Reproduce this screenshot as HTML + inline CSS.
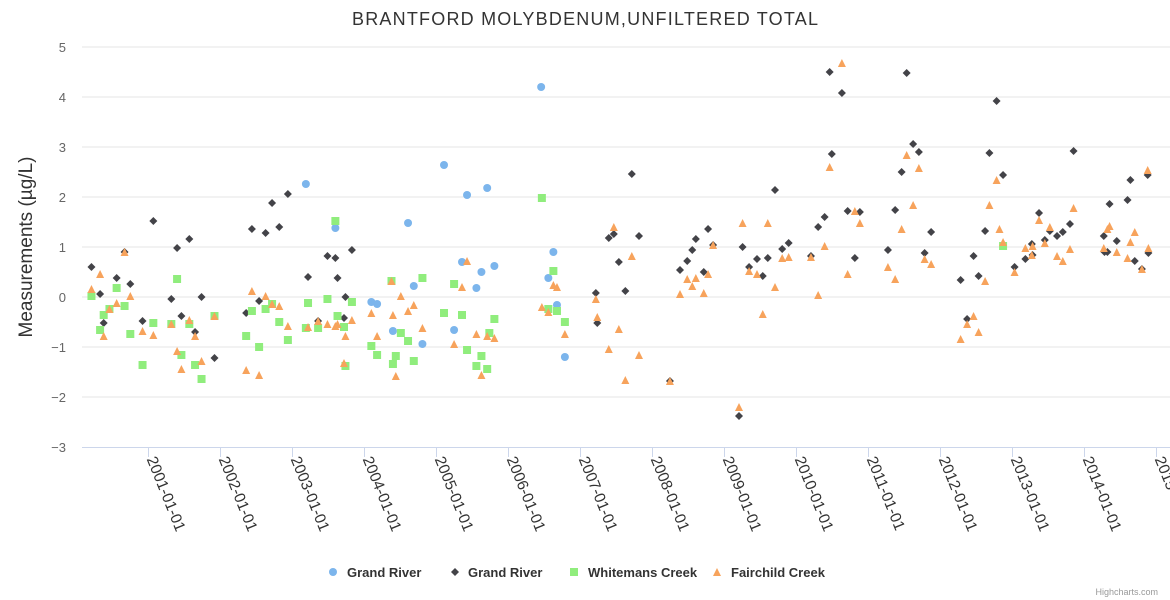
<!DOCTYPE html>
<html><head><meta charset="utf-8"><style>
html,body{margin:0;padding:0;background:#fff;}
svg{display:block;font-family:"Liberation Sans",sans-serif;}
</style></head><body>
<svg id="chart" width="1170" height="600" xmlns="http://www.w3.org/2000/svg">
<rect width="1170" height="600" fill="#fff"/>
<text x="585" y="25" text-anchor="middle" font-size="18" fill="#333" textLength="466">BRANTFORD MOLYBDENUM,UNFILTERED TOTAL</text>
<text transform="translate(32,247) rotate(-90)" text-anchor="middle" font-size="19" fill="#333">Measurements (µg/L)</text>
<g id="grid"></g><g id="xaxis"></g><g id="marks"></g>
<g id="legend">
<circle cx="333" cy="572" r="4" fill="#7cb5ec"/>
<text x="347" y="577" font-size="13" font-weight="bold" fill="#333">Grand River</text>
<path d="M455 568 L459 572 L455 576 L451 572 Z" fill="#434348"/>
<text x="468" y="577" font-size="13" font-weight="bold" fill="#333">Grand River</text>
<rect x="570" y="568" width="8" height="8" fill="#90ed7d"/>
<text x="588" y="577" font-size="13" font-weight="bold" fill="#333">Whitemans Creek</text>
<path d="M717 568 L721 576 L713 576 Z" fill="#f7a35c"/>
<text x="731" y="577" font-size="13" font-weight="bold" fill="#333">Fairchild Creek</text>
</g>
<text x="1158" y="595" text-anchor="end" font-size="9" fill="#999">Highcharts.com</text>
</svg>
<script>
const yTicks=[5,4,3,2,1,0,-1,-2,-3];
const yTickLabels=["5","4","3","2","1","0","\u22121","\u22122","\u22123"];
const xTicks=[2001,2002,2003,2004,2005,2006,2007,2008,2009,2010,2011,2012,2013,2014,2015];
const xTickLabels=["2001-01-01","2002-01-01","2003-01-01","2004-01-01","2005-01-01","2006-01-01","2007-01-01","2008-01-01","2009-01-01","2010-01-01","2011-01-01","2012-01-01","2013-01-01","2014-01-01","2015-01-01"];
const grandRiverA=[[2003.19,2.26],[2003.60,1.38],[2004.10,-0.1],[2004.18,-0.14],[2004.40,-0.68],[2004.61,1.48],[2004.69,0.22],[2004.81,-0.94],[2005.11,2.64],[2005.25,-0.66],[2005.36,0.7],[2005.43,2.04],[2005.56,0.18],[2005.63,0.5],[2005.71,2.18],[2005.81,0.62],[2006.46,4.2],[2006.56,0.38],[2006.63,0.9],[2006.68,-0.16],[2006.79,-1.2]];
const grandRiverB=[[2000.21,0.6],[2000.33,0.06],[2000.38,-0.52],[2000.56,0.38],[2000.75,0.26],[2000.67,0.9],[2000.92,-0.48],[2001.07,1.52],[2001.32,-0.04],[2001.40,0.98],[2001.46,-0.38],[2001.57,1.16],[2001.65,-0.7],[2001.74,0],[2001.92,-1.22],[2002.36,-0.32],[2002.44,1.36],[2002.54,-0.08],[2002.63,1.28],[2002.72,1.88],[2002.82,1.4],[2002.94,2.06],[2003.22,0.4],[2003.36,-0.48],[2003.49,0.82],[2003.60,0.78],[2003.63,0.38],[2003.74,0],[2003.72,-0.42],[2003.83,0.94],[2007.22,0.08],[2007.24,-0.52],[2007.40,1.18],[2007.47,1.26],[2007.54,0.7],[2007.63,0.12],[2007.72,2.46],[2007.82,1.22],[2008.25,-1.68],[2008.39,0.54],[2008.49,0.72],[2008.56,0.94],[2008.61,1.16],[2008.72,0.5],[2008.78,1.36],[2008.85,1.04],[2009.21,-2.38],[2009.26,1.0],[2009.35,0.6],[2009.46,0.76],[2009.54,0.42],[2009.61,0.78],[2009.71,2.14],[2009.81,0.96],[2009.90,1.08],[2010.21,0.82],[2010.31,1.4],[2010.40,1.6],[2010.47,4.5],[2010.50,2.86],[2010.64,4.08],[2010.72,1.72],[2010.82,0.78],[2010.89,1.7],[2011.28,0.94],[2011.38,1.74],[2011.47,2.5],[2011.54,4.48],[2011.63,3.06],[2011.71,2.9],[2011.79,0.88],[2011.88,1.3],[2012.29,0.34],[2012.38,-0.44],[2012.47,0.82],[2012.54,0.42],[2012.63,1.32],[2012.69,2.88],[2012.79,3.92],[2012.88,2.44],[2013.04,0.6],[2013.19,0.76],[2013.28,1.06],[2013.29,0.84],[2013.38,1.68],[2013.46,1.14],[2013.53,1.32],[2013.63,1.22],[2013.71,1.3],[2013.81,1.46],[2013.86,2.92],[2014.28,1.22],[2014.29,0.9],[2014.33,0.9],[2014.36,1.86],[2014.46,1.12],[2014.61,1.94],[2014.65,2.34],[2014.71,0.72],[2014.81,0.56],[2014.89,2.44],[2014.90,0.88]];
const whitemansCreek=[[2000.21,0.02],[2000.38,-0.36],[2000.33,-0.66],[2000.46,-0.24],[2000.56,0.18],[2000.67,-0.18],[2000.75,-0.74],[2000.92,-1.36],[2001.07,-0.52],[2001.32,-0.54],[2001.40,0.36],[2001.46,-1.16],[2001.57,-0.54],[2001.65,-1.36],[2001.74,-1.64],[2001.92,-0.38],[2002.36,-0.78],[2002.44,-0.28],[2002.54,-1.0],[2002.63,-0.24],[2002.72,-0.14],[2002.82,-0.5],[2002.94,-0.86],[2003.22,-0.12],[2003.19,-0.62],[2003.36,-0.62],[2003.49,-0.04],[2003.60,1.52],[2003.63,-0.38],[2003.72,-0.6],[2003.74,-1.38],[2003.83,-0.1],[2004.10,-0.98],[2004.18,-1.16],[2004.38,0.32],[2004.40,-1.34],[2004.44,-1.18],[2004.51,-0.72],[2004.61,-0.88],[2004.69,-1.28],[2004.81,0.38],[2005.11,-0.32],[2005.25,0.26],[2005.36,-0.36],[2005.43,-1.06],[2005.56,-1.38],[2005.63,-1.18],[2005.71,-1.44],[2005.74,-0.72],[2005.81,-0.44],[2006.47,1.98],[2006.56,-0.24],[2006.63,0.52],[2006.68,-0.28],[2006.79,-0.5],[2012.88,1.02]];
const fairchildCreek=[[2000.21,0.16],[2000.33,0.46],[2000.38,-0.78],[2000.46,-0.24],[2000.56,-0.12],[2000.67,0.9],[2000.75,0.02],[2000.92,-0.68],[2001.07,-0.76],[2001.32,-0.54],[2001.40,-1.08],[2001.46,-1.44],[2001.57,-0.46],[2001.65,-0.78],[2001.74,-1.28],[2001.92,-0.38],[2002.36,-1.46],[2002.44,0.12],[2002.54,-1.56],[2002.63,0.02],[2002.72,-0.14],[2002.82,-0.18],[2002.94,-0.58],[2003.22,-0.6],[2003.36,-0.48],[2003.49,-0.54],[2003.60,-0.58],[2003.63,-0.54],[2003.72,-1.32],[2003.74,-0.78],[2003.83,-0.46],[2004.10,-0.32],[2004.18,-0.78],[2004.38,0.32],[2004.40,-0.36],[2004.44,-1.58],[2004.51,0.02],[2004.61,-0.28],[2004.69,-0.16],[2004.81,-0.62],[2005.25,-0.94],[2005.36,0.2],[2005.43,0.72],[2005.56,-0.74],[2005.63,-1.56],[2005.71,-0.78],[2005.81,-0.82],[2006.47,-0.2],[2006.56,-0.3],[2006.63,0.24],[2006.68,0.2],[2006.79,-0.74],[2007.22,-0.04],[2007.24,-0.4],[2007.40,-1.04],[2007.47,1.4],[2007.54,-0.64],[2007.63,-1.66],[2007.72,0.82],[2007.82,-1.16],[2008.25,-1.68],[2008.39,0.06],[2008.49,0.36],[2008.56,0.22],[2008.61,0.38],[2008.72,0.08],[2008.78,0.46],[2008.85,1.04],[2009.21,-2.2],[2009.26,1.48],[2009.35,0.52],[2009.46,0.46],[2009.54,-0.34],[2009.61,1.48],[2009.71,0.2],[2009.81,0.78],[2009.90,0.8],[2010.21,0.8],[2010.31,0.04],[2010.40,1.02],[2010.47,2.6],[2010.64,4.68],[2010.72,0.46],[2010.82,1.72],[2010.89,1.48],[2011.28,0.6],[2011.38,0.36],[2011.47,1.36],[2011.54,2.84],[2011.63,1.84],[2011.71,2.58],[2011.79,0.76],[2011.88,0.66],[2012.29,-0.84],[2012.38,-0.54],[2012.47,-0.38],[2012.54,-0.7],[2012.63,0.32],[2012.69,1.84],[2012.79,2.34],[2012.83,1.36],[2012.88,1.1],[2013.04,0.5],[2013.19,0.98],[2013.28,0.84],[2013.29,1.02],[2013.38,1.54],[2013.46,1.08],[2013.53,1.4],[2013.63,0.82],[2013.71,0.72],[2013.81,0.96],[2013.86,1.78],[2014.28,0.98],[2014.33,1.36],[2014.36,1.42],[2014.46,0.9],[2014.61,0.78],[2014.65,1.1],[2014.71,1.3],[2014.81,0.56],[2014.89,2.54],[2014.90,0.98]];

const NS="http://www.w3.org/2000/svg";
const X0=82,X1=1170,Y0=47,Y1=447;
function xScale(t){return 148.3+(t-2001)*71.95;}
function yScale(v){return 297-v*50;}
function mk(tag,attrs,parent){const e=document.createElementNS(NS,tag);for(const k in attrs)e.setAttribute(k,attrs[k]);parent.appendChild(e);return e;}
const grid=document.getElementById('grid'),xa=document.getElementById('xaxis'),marks=document.getElementById('marks');
yTicks.forEach((v,i)=>{
  const y=yScale(v);
  if(v!==-3){const l=mk('line',{x1:X0,x2:X1,y1:y,y2:y,stroke:'#e6e6e6','stroke-width':1},grid);
  
  }
  const t=mk('text',{x:66,y:y+5,'text-anchor':'end','font-size':13,fill:'#666'},grid);
  t.textContent=yTickLabels[i];
  
  
});
const axl=mk('line',{x1:X0,x2:X1,y1:Y1+0.5,y2:Y1+0.5,stroke:'#ccd6eb','stroke-width':1},xa);


xTicks.forEach((t,i)=>{
  const x=Math.round(xScale(t))+0.5;
  const tk=mk('line',{x1:x,x2:x,y1:Y1,y2:Y1+10,stroke:'#ccd6eb','stroke-width':1},xa);
  
  
  const lb=mk('text',{transform:`translate(${x-2},459) rotate(68)`,'font-size':15.5,fill:'#333'},xa);
  lb.textContent=xTickLabels[i];
  
  
});
function drawSeries(data,shape,color,name){
  data.forEach(d=>{
    const x=xScale(d[0]),y=yScale(d[1]);let e;
    if(shape==='circle')e=mk('circle',{cx:x,cy:y,r:4,fill:color},marks);
    else if(shape==='diamond')e=mk('path',{d:`M${x} ${y-4}L${x+4} ${y}L${x} ${y+4}L${x-4} ${y}Z`,fill:color},marks);
    else if(shape==='square')e=mk('rect',{x:x-4,y:y-4,width:8,height:8,fill:color},marks);
    else e=mk('path',{d:`M${x} ${y-4}L${x+4} ${y+4}L${x-4} ${y+4}Z`,fill:color},marks);
    
    
  });
}
drawSeries(grandRiverA,'circle','#7cb5ec','grand-river-1-point');
drawSeries(grandRiverB,'diamond','#434348','grand-river-2-point');
drawSeries(whitemansCreek,'square','#90ed7d','whitemans-creek-point');
drawSeries(fairchildCreek,'triangle','#f7a35c','fairchild-creek-point');
</script>
</body></html>
